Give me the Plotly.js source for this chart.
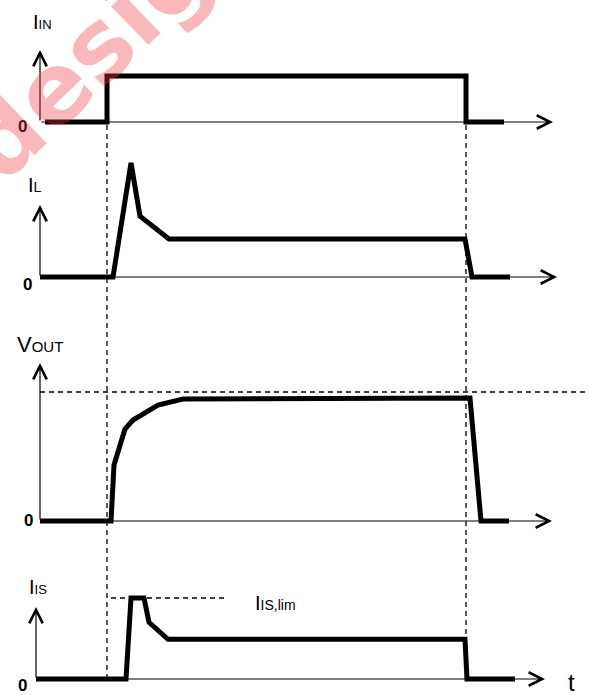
<!DOCTYPE html>
<html>
<head>
<meta charset="utf-8">
<script src="https://cdn.plot.ly/plotly-3.0.1.min.js"></script>
<style>html,body{margin:0;padding:0;background:#fff;}#chart{width:589px;height:695px;}</style>
</head>
<body>
<div id="chart"></div>
<script>
// ---- data (time in arbitrary units, signals normalised) ----
const tIn  = [5, 67, 67, 426, 426, 464];
const iIn  = [0, 0, 1, 1, 0, 0];
const tL   = [0, 73, 91, 100, 129, 425, 432, 470];
const iL   = [0, 0, 3.0, 1.6, 1, 1, 0, 0];
const tOut = [0, 71, 74, 85, 93, 118, 143, 430, 441, 469];
const vOut = [0, 0, 0.434, 0.713, 0.783, 0.899, 0.946, 0.953, 0, 0];
const tIs  = [-4, 86, 91, 104, 109, 128, 425, 427, 475];
const iIs  = [0, 0, 1, 1, 0.70, 0.49, 0.49, 0, 0];
const tOn = 67, tOff = 426;
const vRef = 1, isLim = 1;
const isLimSpan = [71, 188];
const panelLabels = ["I<span style='font-size:13px'>IN</span>",
                     "I<span style='font-size:14px'>L</span>",
                     "V<span style='font-size:15px'>OUT</span>",
                     "I<span style='font-size:13px'>IS</span>"];
const limLabel = "I<span style='font-size:14px'>IS,lim</span>";
const timeLabel = "t";
const zeroLabel = "0";

// ---- layout geometry ----
const W = 589, H = 695;
const X0 = 40;               // pixel of t = 0
const panels = [
  {pz: 122, s: 46, axX: 0,  tipY: 50,  tipX: 553, lab: [42, 22],  zero: [22, 126]},
  {pz: 277, s: 38, axX: 0,  tipY: 205, tipX: 557, lab: [35, 185], zero: [27, 284]},
  {pz: 521, s: 129, axX: 0, tipY: 363, tipX: 552, lab: [40, 344], zero: [28, 520]},
  {pz: 679, s: 81, axX: -4, tipY: 607, tipX: 545, lab: [38, 587], zero: [22, 685]}
];
const px = x => x / W, py = y => 1 - y / H;
const yNames = ['y', 'y2', 'y3', 'y4'];

const series = [[tIn, iIn], [tL, iL], [tOut, vOut], [tIs, iIs]];
const traces = series.map((d, i) => ({
  x: d[0], y: d[1], yaxis: yNames[i], type: 'scatter', mode: 'lines',
  line: {color: '#000', width: 5}, hoverinfo: 'skip', showlegend: false
}));

const layout = {
  width: W, height: H, autosize: false,
  margin: {l: 0, r: 0, t: 0, b: 0, pad: 0},
  paper_bgcolor: '#fff', plot_bgcolor: '#fff',
  showlegend: false,
  font: {family: 'Liberation Sans, Arial, sans-serif', color: '#000'},
  xaxis: {range: [-X0, W - X0], visible: false, fixedrange: true},
  shapes: [], annotations: []
};
panels.forEach((p, i) => {
  const key = i === 0 ? 'yaxis' : 'yaxis' + (i + 1);
  const b = p.pz / p.s, a = (p.pz - H) / p.s;
  layout[key] = {range: [a, b], domain: [0, 1], visible: false, fixedrange: true};
  if (i > 0) layout[key].overlaying = 'y';
  const yn = yNames[i];
  const yTip = (p.pz - p.tipY) / p.s;
  layout.annotations.push({x: p.axX, y: yTip, xref: 'x', yref: yn, ax: p.axX, ay: 0,
    axref: 'x', ayref: yn, text: '', showarrow: true, arrowhead: 5, arrowsize: 2.2,
    arrowwidth: 1.2, arrowcolor: '#000', standoff: 0, startstandoff: 0});
  layout.annotations.push({x: p.tipX - X0, y: 0, xref: 'x', yref: yn, ax: p.axX, ay: 0,
    axref: 'x', ayref: yn, text: '', showarrow: true, arrowhead: 5, arrowsize: 2.2,
    arrowwidth: 1.2, arrowcolor: '#000', standoff: 0, startstandoff: 0});
  layout.annotations.push({x: px(p.lab[0]), y: py(p.lab[1]), xref: 'paper', yref: 'paper',
    text: panelLabels[i], showarrow: false, xanchor: 'center', yanchor: 'middle',
    font: {size: i === 2 ? 22 : 20, color: '#000'}});
  layout.annotations.push({x: px(p.zero[0]), y: py(p.zero[1]), xref: 'paper', yref: 'paper',
    text: '<b>' + zeroLabel + '</b>', showarrow: false, xanchor: 'center', yanchor: 'middle',
    font: {size: 17, color: '#000'}});
});
const dash = '5px,4px';
layout.shapes.push({type: 'line', xref: 'x', yref: 'paper', x0: tOn, x1: tOn,
  y0: py(125), y1: py(680), line: {color: '#000', width: 1.3, dash: dash}});
layout.shapes.push({type: 'line', xref: 'x', yref: 'paper', x0: tOff, x1: tOff,
  y0: py(125), y1: py(636), line: {color: '#000', width: 1.3, dash: dash}});
layout.shapes.push({type: 'line', xref: 'x', yref: 'y3', x0: 0, x1: W - X0,
  y0: vRef, y1: vRef, line: {color: '#000', width: 1.3, dash: dash}});
layout.shapes.push({type: 'line', xref: 'x', yref: 'y4', x0: isLimSpan[0], x1: isLimSpan[1],
  y0: isLim, y1: isLim, line: {color: '#000', width: 1.3, dash: dash}});
layout.annotations.push({x: px(275), y: py(603), xref: 'paper', yref: 'paper', text: limLabel,
  showarrow: false, xanchor: 'center', yanchor: 'middle', font: {size: 20, color: '#000'}});
layout.annotations.push({x: px(571), y: py(682), xref: 'paper', yref: 'paper', text: timeLabel,
  showarrow: false, xanchor: 'center', yanchor: 'middle', font: {size: 24, color: '#000'}});
// watermark
layout.annotations.push({x: px(111), y: py(34), xref: 'paper', yref: 'paper', text: '<b>design</b>',
  showarrow: false, textangle: -44, xanchor: 'center', yanchor: 'middle',
  font: {size: 98, color: 'rgba(238,60,70,0.36)', family: 'DejaVu Sans, Verdana, sans-serif'}});

Plotly.newPlot('chart', traces, layout, {staticPlot: true, displayModeBar: false});
</script>
</body>
</html>
